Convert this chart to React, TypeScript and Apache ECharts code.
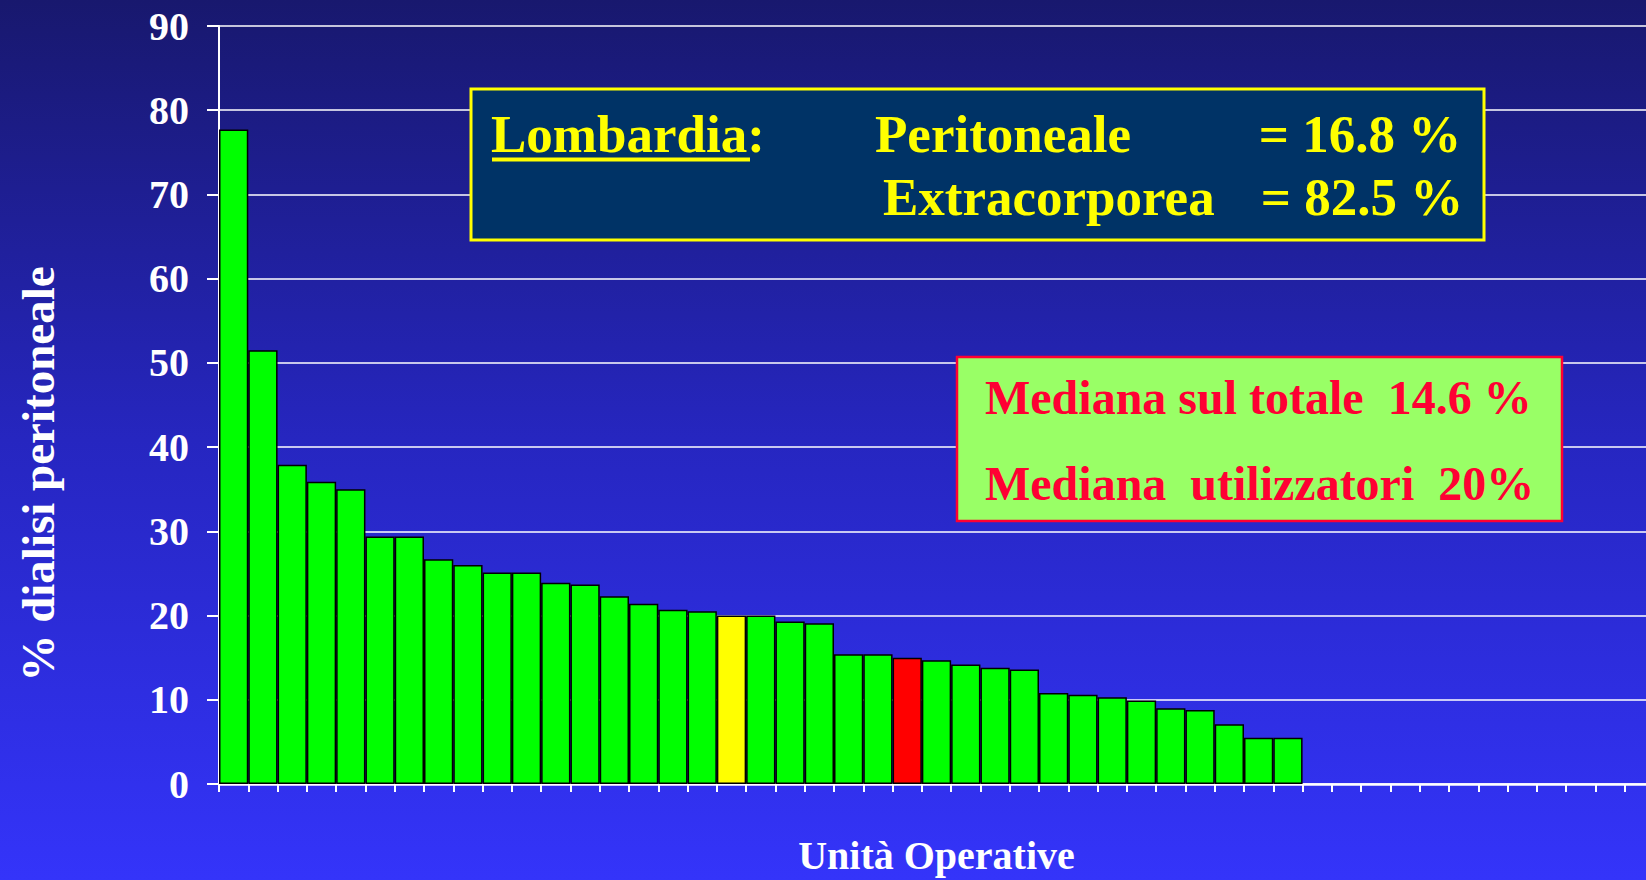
import { useEffect, useRef } from "react";
import * as echarts from "echarts";

// ---------- data ----------
const CATEGORIES = [
  "UO 1", "UO 2", "UO 3", "UO 4", "UO 5", "UO 6", "UO 7", "UO 8", "UO 9", "UO 10",
  "UO 11", "UO 12", "UO 13", "UO 14", "UO 15", "UO 16", "UO 17", "UO 18", "UO 19", "UO 20",
  "UO 21", "UO 22", "UO 23", "UO 24", "UO 25", "UO 26", "UO 27", "UO 28", "UO 29", "UO 30",
  "UO 31", "UO 32", "UO 33", "UO 34", "UO 35", "UO 36", "UO 37", "UO 38", "UO 39", "UO 40",
  "UO 41", "UO 42", "UO 43", "UO 44", "UO 45", "UO 46", "UO 47", "UO 48", "UO 49",
];

const PD_PERCENT = [
  77.7, 51.5, 37.9, 35.9, 35.0, 29.4, 29.4, 26.7, 26.0, 25.1,
  25.1, 23.9, 23.7, 22.3, 21.4, 20.7, 20.5, 20.0, 20.0, 19.3,
  19.1, 15.4, 15.4, 15.0, 14.7, 14.2, 13.8, 13.6, 10.8, 10.6,
  10.3, 9.9, 9.0, 8.8, 7.1, 5.5, 5.5,
];

const HIGHLIGHT_YELLOW = "UO 18";
const HIGHLIGHT_RED = "UO 24";

const Y_MIN = 0;
const Y_MAX = 90;
const Y_STEP = 10;

const Y_TITLE = "% dialisi peritoneale";
const X_TITLE = "Unità Operative";

const LOMBARDIA_LABEL = "Lombardia";
const LOMBARDIA_ROWS = [
  ["Peritoneale", "= 16.8 %"],
  ["Extracorporea", "= 82.5 %"],
];
const MEDIANA_ROWS = [
  "Mediana sul totale\u00A0\u00A014.6 %",
  "Mediana\u00A0\u00A0utilizzatori\u00A0\u00A020%",
];

// ---------- styles ----------
const FONT = "'Liberation Serif', 'Times New Roman', Times, serif";
const WHITE = "#ffffff";
const YELLOW = "#ffff00";
const RED_TXT = "#ff0033";

function txt(text: string, x: number, y: number, size: number, fill: string, align = "left") {
  return {
    type: "text",
    x,
    y,
    z: 20,
    style: {
      text,
      fill,
      fontSize: size,
      fontWeight: "bold",
      fontFamily: FONT,
      align,
      textAlign: align,
      verticalAlign: "middle",
      textVerticalAlign: "middle",
    },
  };
}

export default function App() {
  const ref = useRef<HTMLDivElement>(null);

  useEffect(() => {
    document.body.style.margin = "0";
    const chart = echarts.init(ref.current!, null, { renderer: "svg" });

    const barData = PD_PERCENT.map((v, i) => {
      const cat = CATEGORIES[i];
      const color = cat === HIGHLIGHT_YELLOW ? "#ffff00" : cat === HIGHLIGHT_RED ? "#ff0000" : "#00ff00";
      return { value: v, itemStyle: { color } };
    });

    const option: any = {
      animation: false,
      backgroundColor: {
        type: "linear",
        x: 0,
        y: 0,
        x2: 0,
        y2: 1,
        colorStops: [
          { offset: 0, color: "#18186e" },
          { offset: 0.5, color: "#2626c0" },
          { offset: 1, color: "#3434fa" },
        ],
      },
      grid: { left: 219, top: 26, right: 0, bottom: 94, containLabel: false },
      xAxis: {
        type: "category",
        data: CATEGORIES,
        boundaryGap: true,
        name: X_TITLE,
        nameLocation: "middle",
        nameGap: 51,
        nameTextStyle: { color: WHITE, fontSize: 40, fontWeight: "bold", fontFamily: FONT },
        axisLine: { show: true, lineStyle: { color: WHITE, width: 2.5 } },
        axisTick: { show: true, interval: 0, length: 8, lineStyle: { color: WHITE, width: 2 } },
        axisLabel: { show: false },
        splitLine: { show: false },
      },
      yAxis: {
        type: "value",
        min: Y_MIN,
        max: Y_MAX,
        interval: Y_STEP,
        name: Y_TITLE,
        nameLocation: "middle",
        nameGap: 158,
        nameTextStyle: {
          color: WHITE,
          fontSize: 47,
          fontWeight: "bold",
          fontFamily: FONT,
          padding: [0, 138, 0, 0],
        },
        axisLine: { show: true, lineStyle: { color: WHITE, width: 2 } },
        axisTick: { show: true, length: 12, lineStyle: { color: WHITE, width: 2 } },
        axisLabel: { color: WHITE, fontSize: 40, fontWeight: "bold", fontFamily: FONT, margin: 30 },
        splitLine: { show: true, lineStyle: { color: WHITE, width: 1.5 } },
      },
      series: [
        {
          type: "bar",
          data: barData,
          barCategoryGap: "0%",
          itemStyle: { borderColor: "#000000", borderWidth: 1.5 },
        },
      ],
      graphic: [
        {
          type: "rect",
          z: 10,
          shape: { x: 471, y: 89, width: 1013, height: 151 },
          style: { fill: "#003366", stroke: YELLOW, lineWidth: 3 },
        },
        txt(LOMBARDIA_LABEL + ":", 491, 134, 53, YELLOW),
        {
          type: "rect",
          z: 20,
          shape: { x: 492, y: 157.5, width: 258, height: 4 },
          style: { fill: YELLOW },
        },
        txt(LOMBARDIA_ROWS[0][0], 875, 134, 53, YELLOW),
        txt(LOMBARDIA_ROWS[0][1], 1360, 134, 53, YELLOW, "center"),
        txt(LOMBARDIA_ROWS[1][0], 883, 197, 53, YELLOW),
        txt(LOMBARDIA_ROWS[1][1], 1362, 197, 53, YELLOW, "center"),
        {
          type: "rect",
          z: 10,
          shape: { x: 957, y: 357, width: 605, height: 164 },
          style: { fill: "#99ff66", stroke: RED_TXT, lineWidth: 2.5 },
        },
        txt(MEDIANA_ROWS[0], 985, 397.5, 48, RED_TXT),
        txt(MEDIANA_ROWS[1], 985, 483.5, 48, RED_TXT),
      ],
    };

    chart.setOption(option);
    return () => chart.dispose();
  }, []);

  return (
    <div
      style={{
        position: "fixed",
        left: 0,
        top: 0,
        width: 1646,
        height: 880,
        overflow: "hidden",
      }}
    >
      <div ref={ref} style={{ width: 1654, height: 880 }} />
    </div>
  );
}
